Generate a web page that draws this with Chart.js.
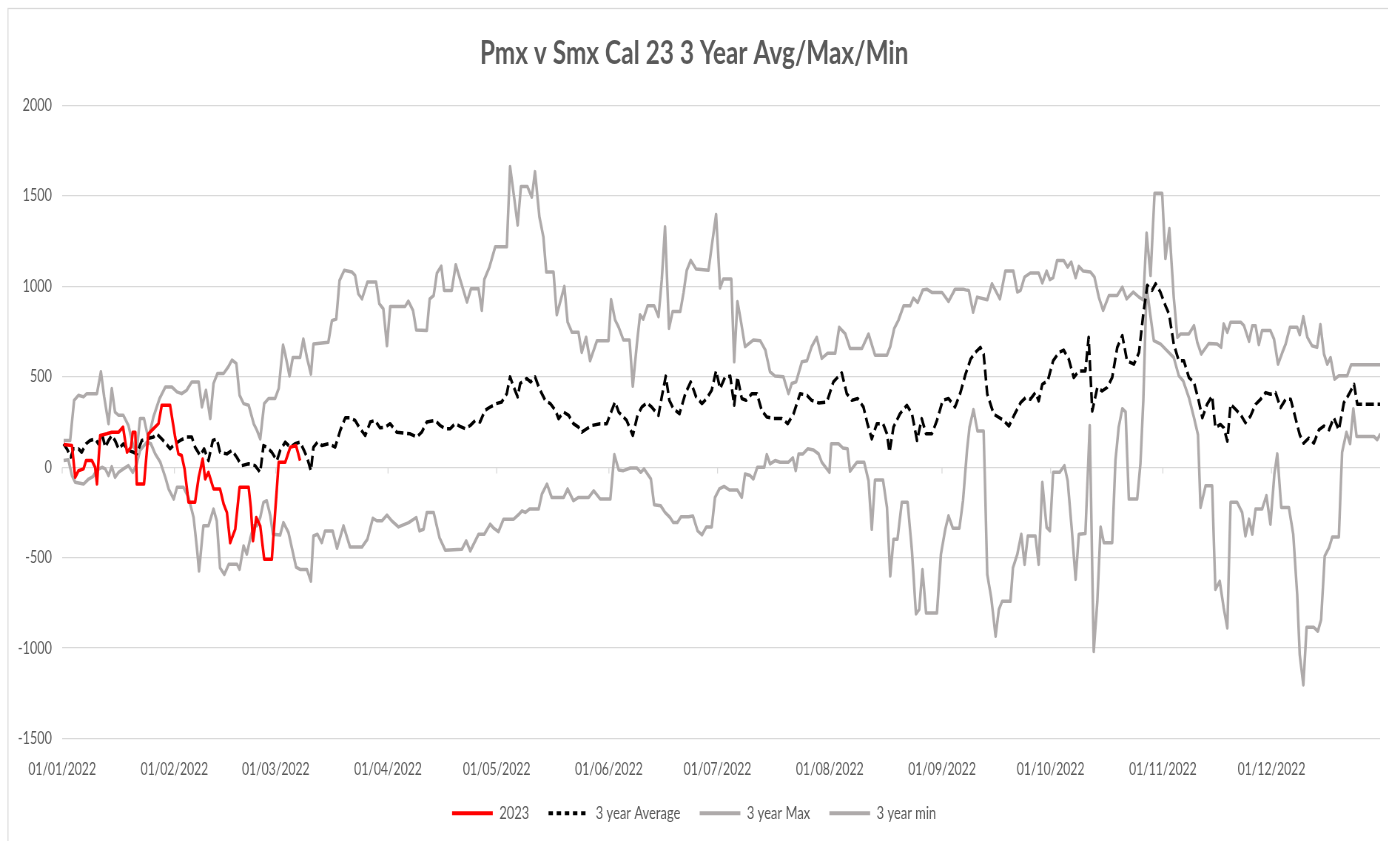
<!DOCTYPE html>
<html>
<head>
<meta charset="utf-8">
<title>Pmx v Smx Cal 23 3 Year Avg/Max/Min</title>
<script src="https://cdn.jsdelivr.net/npm/chart.js@4.4.1/dist/chart.umd.min.js"></script>
<style>
    html, body { margin: 0; padding: 0; background: #fff; overflow: hidden; }
    /* the original picture is a squeezed Excel export, so the chart is drawn wide and narrowed */
    #wrap { position: absolute; left: 0; top: 0; width: 1876px; height: 841px;
            transform: scaleX(0.74); transform-origin: 0 0; }
</style>
</head>
<body>
<div id="wrap"><canvas id="spreadChart"></canvas></div>
<script>
// x values are day numbers from 01/01/2022 (0 = 1 Jan)
const tickDays = [0, 31, 59, 90, 120, 151, 181, 212, 243, 273, 304, 334];
const tickLabels = ['01/01/2022', '01/02/2022', '01/03/2022', '01/04/2022', '01/05/2022', '01/06/2022',
    '01/07/2022', '01/08/2022', '01/09/2022', '01/10/2022', '01/11/2022', '01/12/2022'];

const days2023 = [0.4, 2.7, 3.6, 4.5, 5.9, 6.6, 8.2, 9.1, 9.6, 10.5, 12.3, 13.7, 15.6, 16.8, 17.9, 19.0, 19.5, 20.2,
    20.6, 22.6, 23.8, 25.2, 26.6, 27.5, 29.8, 31.2, 32.1, 33.0, 33.8, 34.9, 36.7, 37.7, 38.8, 39.5, 40.4, 41.8,
    43.6, 44.6, 45.5, 46.4, 47.8, 49.0, 51.5, 52.1, 52.7, 53.6, 54.7, 55.8, 57.9, 59.8, 61.6, 63.0, 64.6, 65.7];
const values2023 = [126, 120, -56, -19, -9, 37, 37, 0, -93, 176, 185, 194, 194, 222, 83, 111, 194, 194,
    -93, -93, 185, 213, 241, 343, 343, 167, 74, 65, -9, -194, -194, -56, 46, -65, -28, -120,
    -120, -204, -250, -417, -343, -111, -111, -222, -407, -278, -324, -509, -509, 28, 28, 111, 120, 37];

const avgDays = [0.4, 1.3, 2.4, 3.1, 4.5, 5.4, 6.6, 7.7, 9.1, 10.0, 11.0, 11.9, 12.8, 13.7, 14.6, 15.6, 16.9, 18.3,
    19.7, 20.6, 22.0, 23.4, 25.2, 26.1, 27.5, 28.7, 29.8, 31.2, 32.6, 34.4, 35.8, 36.7, 38.1, 39.2, 40.4, 41.6,
    42.7, 43.6, 45.5, 46.9, 48.2, 49.6, 51.5, 53.3, 54.7, 55.6, 56.5, 57.9, 59.3, 60.2, 61.6, 63.0, 64.3, 65.7,
    66.8, 67.6, 68.7, 69.4, 70.5, 71.7, 73.6, 75.4, 76.8, 78.2, 79.5, 80.9, 82.3, 83.7, 85.1, 86.4, 87.8, 89.2,
    90.6, 92.4, 94.3, 96.1, 97.9, 99.3, 100.7, 103.0, 104.4, 105.8, 107.2, 108.5, 109.9, 111.3, 112.7, 114.1,
    115.4, 116.8, 118.2, 119.9, 121.4, 122.8, 123.7, 124.7, 125.8, 126.5, 128.3, 129.4, 130.6, 131.8, 133.4,
    134.8, 136.2, 137.1, 138.5, 139.9, 141.2, 142.6, 143.5, 144.9, 146.3, 148.6, 150.4, 151.8, 152.7, 153.7,
    155.9, 157.6, 158.9, 160.1, 161.5, 162.8, 164.7, 165.6, 166.7, 167.7, 168.8, 170.5, 172.1, 173.6, 175.1,
    176.7, 178.0, 179.4, 180.6, 181.7, 183.1, 184.5, 185.6, 186.5, 187.7, 188.9, 190.5, 191.9, 193.2, 194.6,
    196.5, 198.8, 200.4, 202.0, 203.8, 205.7, 207.0, 208.9, 211.2, 213.0, 215.3, 216.7, 218.1, 219.7, 221.3,
    222.4, 223.6, 225.0, 226.7, 227.8, 228.5, 229.6, 231.4, 233.3, 234.7, 236.1, 237.4, 238.6, 240.2, 241.6,
    243.2, 244.8, 246.6, 248.0, 249.5, 250.9, 252.2, 253.6, 254.5, 255.5, 257.3, 259.6, 261.5, 262.8, 264.7,
    266.1, 267.4, 268.8, 269.7, 270.7, 272.2, 273.7, 275.3, 276.6, 278.0, 279.4, 280.8, 282.6, 283.5, 284.5,
    285.9, 287.2, 288.6, 290.0, 291.4, 292.8, 294.1, 296.0, 297.4, 298.6, 299.7, 301.0, 302.0, 303.3, 304.7,
    305.7, 307.0, 308.4, 309.8, 311.2, 312.6, 313.9, 314.9, 316.2, 317.6, 318.5, 319.9, 320.8, 321.8, 322.7,
    324.1, 325.4, 326.8, 328.2, 329.6, 331.0, 332.4, 333.7, 335.1, 336.5, 337.9, 339.3, 340.6, 341.8, 342.9,
    344.3, 345.7, 347.1, 348.5, 349.9, 351.2, 352.6, 354.0, 355.4, 356.8, 357.7, 359.5, 364.1];
const avgValues = [130, 102, 56, 102, 102, 83, 130, 148, 157, 130, 185, 111, 148, 176, 148, 102, 130, 93,
    83, 74, 148, 157, 167, 185, 157, 130, 102, 130, 148, 167, 167, 111, 65, 102, 37, 148,
    157, 83, 74, 93, 56, 9, 19, 9, -28, 120, 111, 83, 37, 93, 139, 111, 130, 139,
    93, 56, -19, 111, 139, 120, 130, 111, 204, 274, 274, 259, 213, 176, 250, 259, 218, 222,
    241, 194, 189, 185, 167, 194, 250, 259, 231, 213, 213, 241, 226, 213, 231, 259,
    250, 315, 333, 352, 361, 407, 500, 444, 389, 463, 491, 472, 500, 435, 370,
    352, 315, 269, 305, 287, 241, 222, 194, 213, 231, 241, 241, 315, 361, 305,
    259, 176, 287, 333, 356, 333, 287, 389, 504, 370, 324, 296, 407, 472, 389,
    352, 380, 426, 533, 435, 500, 504, 343, 500, 380, 370, 407, 407, 315, 278,
    269, 269, 241, 296, 407, 398, 370, 356, 361, 472, 522, 407, 370, 380, 333,
    241, 157, 241, 241, 185, 83, 222, 296, 343, 296, 148, 269, 185, 185, 259,
    370, 380, 333, 407, 515, 598, 635, 663, 626, 404, 293, 265, 228, 283, 357,
    385, 376, 413, 367, 459, 478, 589, 635, 648, 598, 496, 533, 533, 719, 311,
    441, 422, 441, 496, 663, 728, 589, 570, 635, 848, 1006, 978, 1015, 969, 894,
    848, 681, 589, 589, 496, 469, 367, 274, 348, 394, 219, 237, 219, 144, 348,
    320, 293, 246, 283, 348, 376, 413, 404, 413, 330, 376, 376, 274, 180, 133,
    161, 133, 207, 228, 207, 274, 207, 357, 404, 459, 348, 348, 348];

const maxDays = [0.4, 2.2, 3.3, 4.5, 5.9, 6.8, 9.6, 10.7, 11.6, 12.8, 13.7, 14.6, 15.6, 16.9, 18.3, 19.7, 20.6, 21.5,
    22.6, 23.8, 25.2, 26.9, 28.5, 30.3, 31.7, 33.0, 34.4, 35.8, 37.7, 38.6, 39.7, 40.9, 41.8, 42.9, 44.6, 45.9,
    46.9, 48.1, 49.0, 50.1, 51.5, 52.9, 53.8, 54.7, 55.8, 57.0, 58.8, 59.8, 61.0, 61.6, 62.8, 63.7, 65.7, 66.6,
    67.6, 68.7, 69.4, 73.5, 74.5, 75.7, 76.6, 77.9, 80.0, 80.9, 81.8, 82.8, 84.3, 86.7, 87.6, 88.7, 89.7, 90.6,
    94.7, 95.6, 96.9, 97.8, 100.7, 101.5, 102.6, 103.5, 104.7, 105.5, 107.6, 108.7, 110.4, 111.8, 112.9, 115.0,
    115.9, 116.6, 118.0, 119.6, 122.8, 123.7, 124.8, 125.8, 126.7, 128.5, 129.7, 130.6, 131.8, 132.9, 133.7,
    135.7, 136.6, 138.7, 139.6, 140.8, 142.6, 143.5, 144.7, 145.8, 147.7, 150.9, 151.6, 152.7, 153.7, 155.0,
    156.7, 157.6, 158.7, 159.6, 160.5, 161.7, 163.5, 164.7, 165.6, 166.5, 167.6, 168.6, 170.7, 171.6, 172.5,
    173.6, 175.1, 178.5, 179.4, 180.6, 181.7, 182.6, 184.8, 185.6, 186.5, 187.4, 188.6, 190.9, 192.8, 194.2,
    195.5, 196.9, 199.2, 200.6, 201.5, 202.7, 204.3, 205.7, 207.0, 208.4, 209.8, 211.4, 213.5, 214.6, 216.3,
    217.6, 220.9, 222.7, 224.5, 227.8, 228.7, 229.8, 231.0, 232.4, 234.2, 235.1, 236.3, 237.7, 238.8, 240.2,
    243.0, 244.8, 246.6, 248.9, 249.5, 250.4, 251.6, 252.7, 255.5, 256.8, 259.0, 260.5, 262.7, 263.8, 264.7,
    265.8, 267.4, 269.7, 270.7, 271.9, 272.8, 273.7, 274.8, 276.6, 277.7, 278.7, 279.9, 280.8, 282.0, 284.0,
    285.1, 286.3, 287.5, 289.1, 291.4, 292.8, 294.0, 295.8, 297.4, 298.6, 299.5, 300.6, 301.7, 303.8, 304.7,
    305.8, 307.0, 308.0, 308.9, 311.2, 312.6, 313.5, 314.6, 316.7, 319.0, 320.1, 320.8, 321.8, 322.7, 325.5,
    326.4, 327.8, 328.7, 329.6, 330.5, 331.4, 333.7, 334.7, 335.8, 337.0, 337.9, 339.1, 341.1, 341.8, 342.8,
    343.9, 345.2, 346.6, 347.5, 348.5, 349.4, 350.3, 351.4, 352.6, 354.9, 356.0, 364.1];
const maxValues = [148, 148, 370, 398, 389, 407, 407, 528, 389, 241, 435, 305, 287, 287, 231, 111, 93, 269,
    269, 157, 278, 380, 444, 444, 417, 407, 426, 472, 472, 333, 426, 269, 463, 519, 519, 556,
    593, 574, 398, 352, 343, 241, 204, 157, 352, 380, 380, 435, 676, 626, 505, 607, 607, 709,
    607, 515, 681, 691, 811, 820, 1033, 1089, 1080, 1061, 959, 931, 1024, 1024, 904, 876, 672, 889,
    889, 919, 867, 759, 756, 931, 950, 1074, 1113, 978, 978, 1120, 1006, 913, 987, 987,
    867, 1039, 1107, 1219, 1219, 1663, 1496, 1339, 1552, 1552, 1493, 1635, 1385, 1274, 1080,
    1080, 843, 1000, 802, 746, 746, 635, 719, 589, 700, 700, 928, 815, 774, 704,
    704, 448, 676, 843, 819, 893, 893, 833, 1037, 1330, 768, 861, 861, 963, 1089,
    1144, 1096, 1089, 1222, 1398, 991, 1041, 1041, 583, 917, 815, 667, 704, 700, 648,
    528, 504, 500, 407, 463, 472, 583, 589, 667, 719, 602, 630, 630, 774, 737,
    657, 657, 737, 620, 620, 667, 768, 815, 893, 893, 935, 911, 981, 985, 967,
    967, 917, 985, 985, 981, 978, 857, 941, 926, 1015, 931, 1085, 1085, 969, 978,
    1052, 1074, 1074, 1019, 1085, 1037, 1048, 1144, 1144, 1107, 1135, 1048, 1111, 1085, 1080,
    1052, 941, 867, 950, 950, 996, 931, 969, 941, 926, 1296, 1060, 1515, 1515, 1154,
    1320, 941, 719, 737, 737, 783, 691, 626, 685, 681, 663, 793, 746, 802, 802,
    783, 696, 783, 783, 678, 756, 756, 709, 570, 635, 681, 774, 774, 733, 833,
    719, 672, 663, 789, 626, 570, 607, 487, 506, 506, 567, 567];

const minDays = [0.4, 1.7, 2.7, 3.6, 5.9, 7.3, 8.5, 9.6, 11.0, 11.9, 12.8, 13.7, 14.6, 15.6, 16.9, 18.3, 19.5, 20.6,
    21.5, 23.4, 24.5, 25.7, 27.1, 28.5, 29.4, 30.8, 31.7, 33.5, 34.9, 36.3, 37.2, 37.8, 39.0, 40.4, 41.8, 42.7,
    43.6, 44.8, 46.0, 48.3, 49.0, 50.1, 51.0, 52.0, 52.9, 53.8, 54.7, 55.6, 56.5, 57.5, 58.2, 60.2, 61.1, 62.5,
    64.6, 65.7, 67.6, 68.7, 69.4, 70.5, 71.7, 72.6, 74.7, 75.9, 77.7, 79.5, 82.8, 84.3, 85.8, 86.9, 88.3, 89.7,
    91.0, 92.9, 95.7, 97.8, 98.7, 99.8, 100.7, 102.6, 104.2, 105.8, 110.4, 111.6, 112.7, 115.0, 116.6, 118.2,
    119.3, 120.5, 121.9, 124.7, 126.0, 127.0, 127.9, 129.1, 131.6, 132.5, 133.9, 135.2, 138.5, 139.6, 141.2,
    142.6, 145.4, 146.8, 148.6, 151.4, 152.5, 153.7, 155.0, 156.9, 158.7, 159.8, 160.7, 162.6, 163.5, 165.3,
    166.5, 167.9, 168.8, 169.9, 170.9, 173.0, 174.2, 175.5, 176.7, 177.9, 179.4, 180.3, 181.5, 182.8, 184.3,
    186.5, 187.7, 188.6, 190.0, 190.9, 192.0, 193.9, 194.6, 195.5, 196.9, 198.3, 200.6, 201.8, 202.6, 203.4,
    204.6, 205.9, 207.5, 208.9, 209.8, 211.9, 212.4, 214.4, 215.6, 216.9, 217.6, 219.5, 221.5, 222.7, 223.6,
    224.5, 226.7, 227.8, 228.7, 229.6, 230.7, 231.9, 233.5, 234.7, 235.8, 236.7, 237.6, 238.6, 241.6, 242.7,
    243.9, 244.8, 246.0, 247.8, 248.8, 249.9, 250.6, 251.7, 252.8, 254.5, 255.5, 256.6, 257.8, 258.7, 259.6,
    261.9, 262.6, 263.8, 264.9, 265.8, 266.7, 268.8, 269.7, 270.7, 271.9, 272.8, 273.7, 275.5, 276.8, 277.7,
    278.8, 279.9, 280.8, 282.6, 283.8, 284.9, 285.9, 286.8, 287.7, 290.0, 290.9, 291.8, 292.8, 293.7, 294.6,
    296.9, 297.8, 298.6, 299.5, 300.5, 301.5, 303.4, 305.2, 307.0, 308.4, 309.6, 311.2, 312.6, 313.7, 314.4,
    315.8, 317.6, 318.5, 319.7, 320.8, 321.8, 322.7, 324.5, 325.9, 326.8, 327.8, 328.7, 329.6, 331.4, 332.6,
    333.7, 334.8, 335.6, 336.7, 338.8, 340.0, 341.1, 341.8, 342.8, 343.7, 345.7, 346.8, 347.7, 348.7, 349.9,
    350.8, 352.6, 353.5, 354.7, 355.7, 356.6, 357.5, 362.3, 363.2, 364.1];
const minValues = [37, 41, -46, -83, -93, -65, -52, -15, 0, -9, -46, 4, -56, -28, -9, 9, -28, 19,
    93, 139, 130, 74, 28, -56, -120, -176, -111, -111, -167, -278, -444, -574, -324, -324, -231, -296,
    -556, -593, -537, -537, -565, -435, -481, -389, -324, -324, -278, -194, -185, -269, -370, -375, -306, -361,
    -552, -565, -565, -630, -380, -370, -417, -352, -352, -448, -324, -441, -441, -398, -282, -296, -296, -265,
    -296, -330, -306, -278, -352, -343, -250, -250, -389, -459, -454, -407, -463, -370, -370, -315,
    -339, -356, -287, -287, -263, -241, -250, -231, -231, -148, -93, -167, -167, -120, -185,
    -167, -167, -130, -176, -176, 70, -15, -19, -4, -4, -28, -9, -65, -207, -213,
    -250, -278, -306, -306, -274, -274, -269, -352, -374, -330, -330, -167, -120, -106, -126,
    -126, -167, -37, -46, -65, 0, 0, 70, 19, 37, 28, 28, 52, -19, 74,
    74, 102, 96, 74, 28, -28, 130, 130, 107, 102, -22, 28, 28, -74, -343,
    -70, -70, -222, -602, -398, -398, -194, -194, -463, -811, -787, -565, -806, -806, -481,
    -343, -269, -337, -337, -185, 93, 222, 319, 200, 200, -593, -722, -935, -787, -741,
    -741, -556, -481, -370, -537, -380, -380, -537, -83, -333, -352, -28, -28, 9, -74,
    -333, -620, -370, -367, 231, -1019, -741, -330, -417, -417, 37, 222, 324, 306, -176,
    -176, 19, 370, 1000, 848, 700, 681, 644, 607, 506, 478, 385, 274, 180, -222,
    -102, -102, -676, -630, -778, -889, -194, -194, -250, -380, -287, -370, -231, -231, -157,
    -315, -37, 74, -222, -222, -370, -704, -1037, -1204, -885, -885, -907, -843, -491, -444,
    -385, -385, 83, 194, 130, 324, 170, 170, 152, 185];

const FONT = "Lato, 'Open Sans', sans-serif";
const TEXT_GREY = '#595959';
const GRID_GREY = '#D9D9D9';
const LINE_GREY = '#AEAAAA';

function toPoints(days, values) {
    return days.map(function(d, i) { return { x: d, y: values[i] }; });
}

// frame round the chart and the small tick marks on the zero line
const framePlugin = {
    id: 'frame',
    beforeDraw: function(chart) {
        const ctx = chart.ctx;
        ctx.save();
        ctx.strokeStyle = GRID_GREY;
        ctx.lineWidth = 1.3;
        ctx.strokeRect(10.8, 8.5, 2000, 1000);
        ctx.restore();
    },
    beforeDatasetsDraw: function(chart) {
        const ctx = chart.ctx;
        const xs = chart.scales.x;
        const y0 = Math.round(chart.scales.y.getPixelForValue(0)) + 0.5;
        ctx.save();
        ctx.strokeStyle = GRID_GREY;
        ctx.lineWidth = 1.3;
        tickDays.forEach(function(d) {
            const px = xs.getPixelForValue(d);
            ctx.beginPath();
            ctx.moveTo(px, y0);
            ctx.lineTo(px, y0 + 6);
            ctx.stroke();
        });
        ctx.restore();
    }
};

// Excel shows the average as a dotted swatch in the legend
function legendLabels(chart) {
    const items = Chart.defaults.plugins.legend.labels.generateLabels(chart);
    items.forEach(function(item) {
        item.lineWidth = 4;
        if (item.datasetIndex === 1) {
            item.lineDash = [6, 5];
        }
    });
    return items;
}

const chart = new Chart(document.getElementById('spreadChart'), {
    type: 'line',
    data: {
        datasets: [{
            label: '2023',
            data: toPoints(days2023, values2023),
            borderColor: '#FF0000',
            backgroundColor: '#FF0000',
            borderWidth: 3.5,
        }, {
            label: '3 year Average',
            data: toPoints(avgDays, avgValues),
            borderColor: '#000000',
            backgroundColor: '#000000',
            borderWidth: 3.5,
            borderDash: [11, 5],
        }, {
            label: '3 year Max',
            data: toPoints(maxDays, maxValues),
            borderColor: LINE_GREY,
            backgroundColor: LINE_GREY,
            borderWidth: 3.5,
        }, {
            label: '3 year min',
            data: toPoints(minDays, minValues),
            borderColor: LINE_GREY,
            backgroundColor: LINE_GREY,
            borderWidth: 3.5,
        }],
    },
    options: {
        responsive: true,
        maintainAspectRatio: false,
        animation: false,
        elements: {
            point: { radius: 0, hoverRadius: 0 },
            line: { tension: 0, borderJoinStyle: 'round', borderCapStyle: 'butt', fill: false },
        },
        layout: { padding: { left: 11, right: 11, top: 8, bottom: 9 } },
        plugins: {
            title: {
                display: true,
                text: 'Pmx v Smx Cal 23 3 Year Avg/Max/Min',
                color: TEXT_GREY,
                font: { family: FONT, size: 33, weight: 'bold' },
                padding: { top: 26, bottom: 32 },
            },
            legend: {
                position: 'bottom',
                labels: {
                    color: TEXT_GREY,
                    font: { family: FONT, size: 17.5 },
                    usePointStyle: true,
                    pointStyle: 'line',
                    pointStyleWidth: 55,
                    boxHeight: 3,
                    padding: 26,
                    generateLabels: legendLabels,
                },
            },
            tooltip: { enabled: false },
        },
        scales: {
            x: {
                type: 'linear',
                min: 0,
                max: 364,
                grid: { display: false, drawTicks: false },
                border: { display: false },
                afterBuildTicks: function(scale) {
                    scale.ticks = tickDays.map(function(d) { return { value: d }; });
                },
                afterFit: function(scale) { scale.height = 40; },
                ticks: {
                    color: TEXT_GREY,
                    font: { family: FONT, size: 16.5 },
                    padding: 21,
                    maxRotation: 0,
                    autoSkip: false,
                    callback: function(value, index) { return tickLabels[index]; },
                },
            },
            y: {
                min: -1500,
                max: 2000,
                grid: { color: GRID_GREY, lineWidth: 1.3, drawTicks: false },
                border: { display: false },
                afterFit: function(scale) { scale.width = 73; },
                ticks: {
                    stepSize: 500,
                    color: TEXT_GREY,
                    font: { family: FONT, size: 17 },
                    padding: 14,
                    callback: function(value) { return String(value); },
                },
            },
        },
    },
    plugins: [framePlugin],
});
</script>
</body>
</html>
